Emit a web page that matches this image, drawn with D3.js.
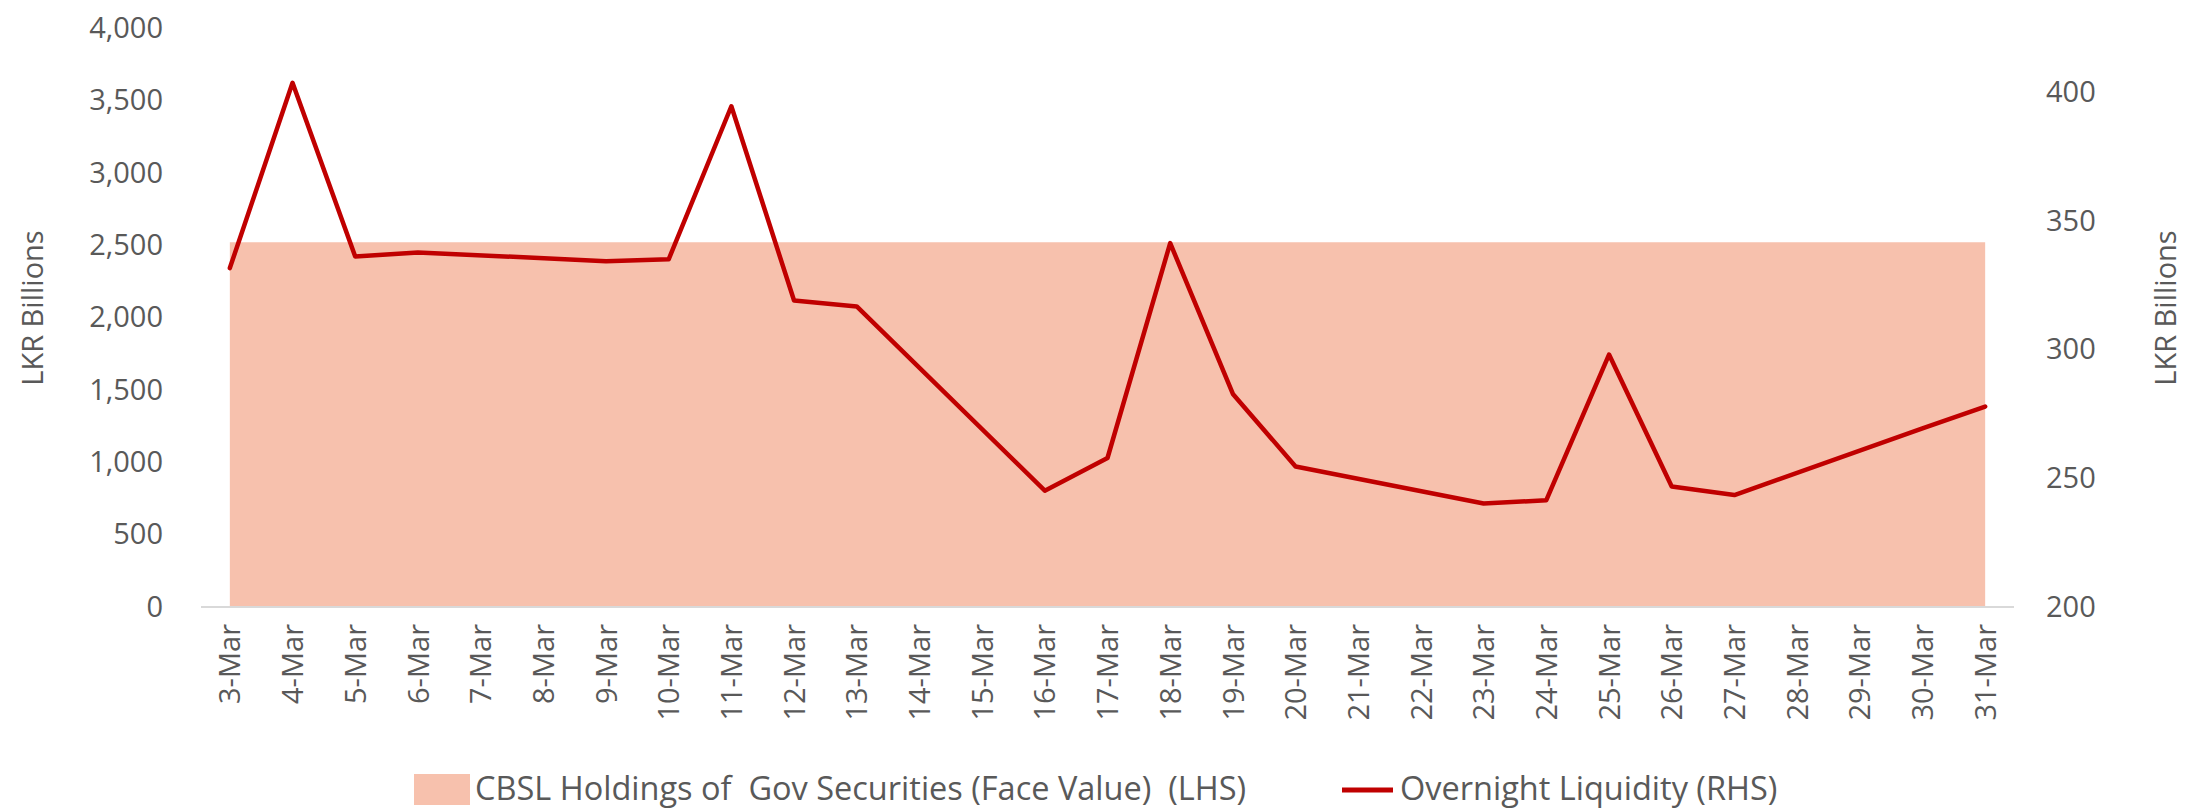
<!DOCTYPE html>
<html>
<head>
<meta charset="utf-8">
<script src="https://cdn.jsdelivr.net/npm/d3@7"></script>
<style>
  html, body { margin: 0; padding: 0; background: #fff; }
  svg text { font-family: 'Open Sans', sans-serif; fill: #595959; }
</style>
</head>
<body>
<div id="chart"></div>
<script>
// Category labels (March, weekends have no liquidity reading)
const dates = ['3-Mar', '4-Mar', '5-Mar', '6-Mar', '7-Mar', '8-Mar', '9-Mar', '10-Mar', '11-Mar',
  '12-Mar', '13-Mar', '14-Mar', '15-Mar', '16-Mar', '17-Mar', '18-Mar', '19-Mar', '20-Mar',
  '21-Mar', '22-Mar', '23-Mar', '24-Mar', '25-Mar', '26-Mar', '27-Mar', '28-Mar', '29-Mar',
  '30-Mar', '31-Mar'];

// CBSL holdings of Gov securities, face value (LHS, LKR bn)
const holdings = [2520, 2520, 2520, 2520, 2520, 2520, 2520, 2520, 2520, 2520, 2520, 2520, 2520,
  2520, 2520, 2520, 2520, 2520, 2520, 2520, 2520, 2520, 2520, 2520, 2520, 2520, 2520, 2520, 2520];

// Overnight liquidity (RHS, LKR bn)
const liquidity = [331.7, 403.7, 336.2, 337.8, null, null, 334.4, 335.1, 394.6, 319.1, 316.8,
  null, null, 245.2, 257.9, 341.4, 282.8, 254.6, null, null, 240.2, 241.5, 298.1, 246.8, 243.5,
  null, null, 269.4, 277.9];

const leftTicks = [0, 500, 1000, 1500, 2000, 2500, 3000, 3500, 4000];
const rightTicks = [200, 250, 300, 350, 400];

const width = 2185;
const height = 808;
const plot = { left: 201, right: 2014, top: 28, bottom: 607 };

const svg = d3.select('#chart')
  .append('svg')
  .attr('width', width)
  .attr('height', height);

// Scales
const x = d3.scalePoint()
  .domain(dates)
  .range([plot.left, plot.right])
  .padding(0.46);

const yLeft = d3.scaleLinear()
  .domain([0, 4000])
  .range([plot.bottom, plot.top]);

const yRight = d3.scaleLinear()
  .domain([200, 425])
  .range([plot.bottom, plot.top]);

// Area series
const areaData = dates.map((d, i) => ({ date: d, value: holdings[i] }));
const area = d3.area()
  .x((d) => x(d.date))
  .y0(yLeft(0))
  .y1((d) => yLeft(d.value));

svg.append('path')
  .datum(areaData)
  .attr('fill', '#f7c1ad')
  .attr('d', area);

// Category axis line
svg.append('line')
  .attr('x1', plot.left)
  .attr('x2', plot.right)
  .attr('y1', plot.bottom)
  .attr('y2', plot.bottom)
  .attr('stroke', '#d9d9d9')
  .attr('stroke-width', 2);

// Line series (gaps are bridged)
const lineData = dates
  .map((d, i) => ({ date: d, value: liquidity[i] }))
  .filter((d) => d.value !== null);

const line = d3.line()
  .x((d) => x(d.date))
  .y((d) => yRight(d.value));

svg.append('path')
  .datum(lineData)
  .attr('fill', 'none')
  .attr('stroke', '#c00000')
  .attr('stroke-width', 4.5)
  .attr('stroke-linejoin', 'round')
  .attr('stroke-linecap', 'round')
  .attr('d', line);

// Left axis
const leftAxis = svg.append('g')
  .attr('transform', `translate(${plot.left},0)`)
  .call(d3.axisLeft(yLeft).tickValues(leftTicks).tickSize(0).tickPadding(38).tickFormat(d3.format(',')));
leftAxis.select('.domain').remove();
leftAxis.selectAll('text')
  .style('font-family', "'Open Sans', sans-serif")
  .style('font-size', '29px')
  .attr('fill', '#595959');

// Right axis
const rightAxis = svg.append('g')
  .attr('transform', `translate(${plot.right},0)`)
  .call(d3.axisRight(yRight).tickValues(rightTicks).tickSize(0).tickPadding(32));
rightAxis.select('.domain').remove();
rightAxis.selectAll('text')
  .style('font-family', "'Open Sans', sans-serif")
  .style('font-size', '29px')
  .attr('fill', '#595959');

// Bottom axis, rotated labels
const bottomAxis = svg.append('g')
  .attr('transform', `translate(0,${plot.bottom})`)
  .call(d3.axisBottom(x).tickSize(0));
bottomAxis.select('.domain').remove();
bottomAxis.selectAll('text')
  .attr('transform', 'rotate(-90)')
  .attr('x', -17)
  .attr('y', 0)
  .attr('dy', '0.35em')
  .style('text-anchor', 'end')
  .style('font-family', "'Open Sans', sans-serif")
  .style('font-size', '29px')
  .attr('fill', '#595959');

// Axis titles
svg.append('text')
  .attr('transform', `translate(31,308) rotate(-90)`)
  .attr('text-anchor', 'middle')
  .attr('dominant-baseline', 'central')
  .style('font-size', '29px')
  .text('LKR Billions');

svg.append('text')
  .attr('transform', `translate(2164,308) rotate(-90)`)
  .attr('text-anchor', 'middle')
  .attr('dominant-baseline', 'central')
  .style('font-size', '29px')
  .text('LKR Billions');

// Legend
const legend = svg.append('g');
legend.append('rect')
  .attr('x', 414)
  .attr('y', 774)
  .attr('width', 56)
  .attr('height', 31)
  .attr('fill', '#f7c1ad');
legend.append('text')
  .attr('x', 475)
  .attr('y', 787)
  .attr('dominant-baseline', 'central')
  .style('font-size', '32.5px')
  .style('white-space', 'pre')
  .attr('xml:space', 'preserve')
  .text('CBSL Holdings of  Gov Securities (Face Value)  (LHS)');

legend.append('line')
  .attr('x1', 1342)
  .attr('x2', 1393)
  .attr('y1', 790)
  .attr('y2', 790)
  .attr('stroke', '#c00000')
  .attr('stroke-width', 5);
legend.append('text')
  .attr('x', 1400)
  .attr('y', 787)
  .attr('dominant-baseline', 'central')
  .style('font-size', '32.5px')
  .text('Overnight Liquidity (RHS)');
</script>
</body>
</html>
